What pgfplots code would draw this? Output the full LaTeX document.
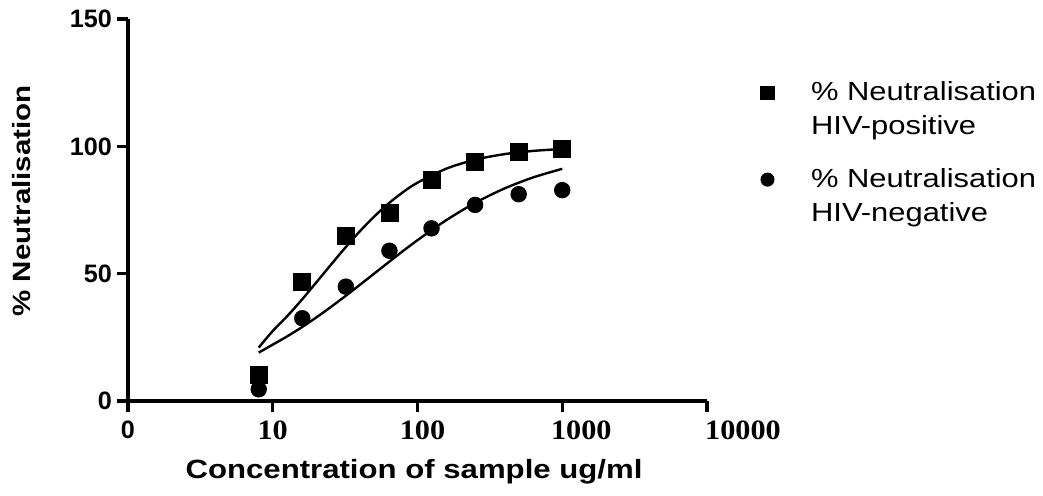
\documentclass[border=0pt]{standalone}
\usepackage{fontspec}
\setmainfont{Liberation Sans}[FakeStretch=1.18]
\newfontfamily\tickfont{Liberation Sans}
\newfontfamily\tickserif{Liberation Serif}[FakeStretch=1.08]
\usepackage{pgfplots}
\pgfplotsset{compat=1.18}
\begin{document}
\begin{tikzpicture}
\useasboundingbox (-64pt,-47pt) rectangle (457.5pt,200.5pt);
\begin{axis}[
  at={(0pt,0pt)}, anchor=south west,
  scale only axis, width=289.5pt, height=191pt,
  xmode=log, xmin=1, xmax=10000, ymin=0, ymax=150,
  axis x line*=bottom, axis y line*=left,
  axis line style={line width=1.6pt, -},
  xtick={1,10,100,1000,10000},
  xticklabels={{\tickfont\bfseries\fontsize{12.6}{14}\selectfont 0},10,\hspace*{5pt}100,\hspace*{19pt}1000,\hspace*{36pt}10000},
  ytick={0,50,100,150}, yticklabels={0,50,100,150},
  xminorticks=false, yminorticks=false,
  tick align=outside, major tick length=5.5pt,
  tick style={line width=1.6pt, black},
  xticklabel style={font=\fontsize{14}{16}\selectfont\tickserif\bfseries, yshift=-1pt},
  yticklabel style={font=\fontsize{12.6}{14}\selectfont\tickfont\bfseries, xshift=1pt},
  xlabel={Concentration of sample ug/ml},
  ylabel={\% Neutralisation},
  xlabel style={font=\fontsize{13.2}{15}\selectfont\bfseries, at={(axis description cs:0.494,-0.2016)}, anchor=base},
  ylabel style={font=\fontsize{12.5}{15}\selectfont\bfseries, at={(axis description cs:-0.183,0.524)}, anchor=center},
  clip=false,
  legend style={draw=none, fill=none, at={(axis description cs:1.082,0.858)}, anchor=north west,
    font=\fontsize{13.1}{17}\selectfont, cells={align=left}, row sep=11.5pt,
    /tikz/every odd column/.append style={column sep=16.5pt}},
  legend cell align=left,
  legend image post style={mark size=3.3pt, yshift=8.5pt},
]
\addplot[only marks, mark=square*, mark size=4.25pt, black] coordinates {
  (8,10.2) (16,46.8) (32,64.8) (64,73.7) (125,86.8) (250,93.7) (500,97.9) (1000,98.8)
};
\addlegendentry{\% Neutralisation\\HIV-positive}
\addplot[only marks, mark=*, mark size=3.9pt, black] coordinates {
  (8,4.6) (16,32.5) (32,44.9) (64,59.0) (125,67.8) (250,77.0) (500,81.2) (1000,82.8)
};
\addlegendentry{\% Neutralisation\\HIV-negative}
\addplot[black, line width=1.2pt, smooth, forget plot] coordinates {
  (8,21.0) (10,27.5) (12.59,33.32) (15.85,39.71) (19.95,46.49) (25.12,53.38) (31.62,60.14)
  (39.81,66.55) (50.12,72.39) (63.10,77.57) (79.43,82.01) (100,85.73) (158.5,91.26)
  (251.2,94.78) (398.1,96.93) (631.0,98.21) (1000,98.96)
};
\addplot[black, line width=1.2pt, smooth, forget plot] coordinates {
  (8,19.0) (10,22.14) (12.59,25.39) (15.85,28.94) (19.95,32.77) (25.12,36.85) (31.62,41.12)
  (39.81,45.53) (50.12,50.00) (63.10,54.48) (79.43,58.89) (100,63.16) (158.5,71.06)
  (251.2,77.86) (398.1,83.43) (631.0,87.82) (1000,91.17)
};
\end{axis}
\end{tikzpicture}
\end{document}
